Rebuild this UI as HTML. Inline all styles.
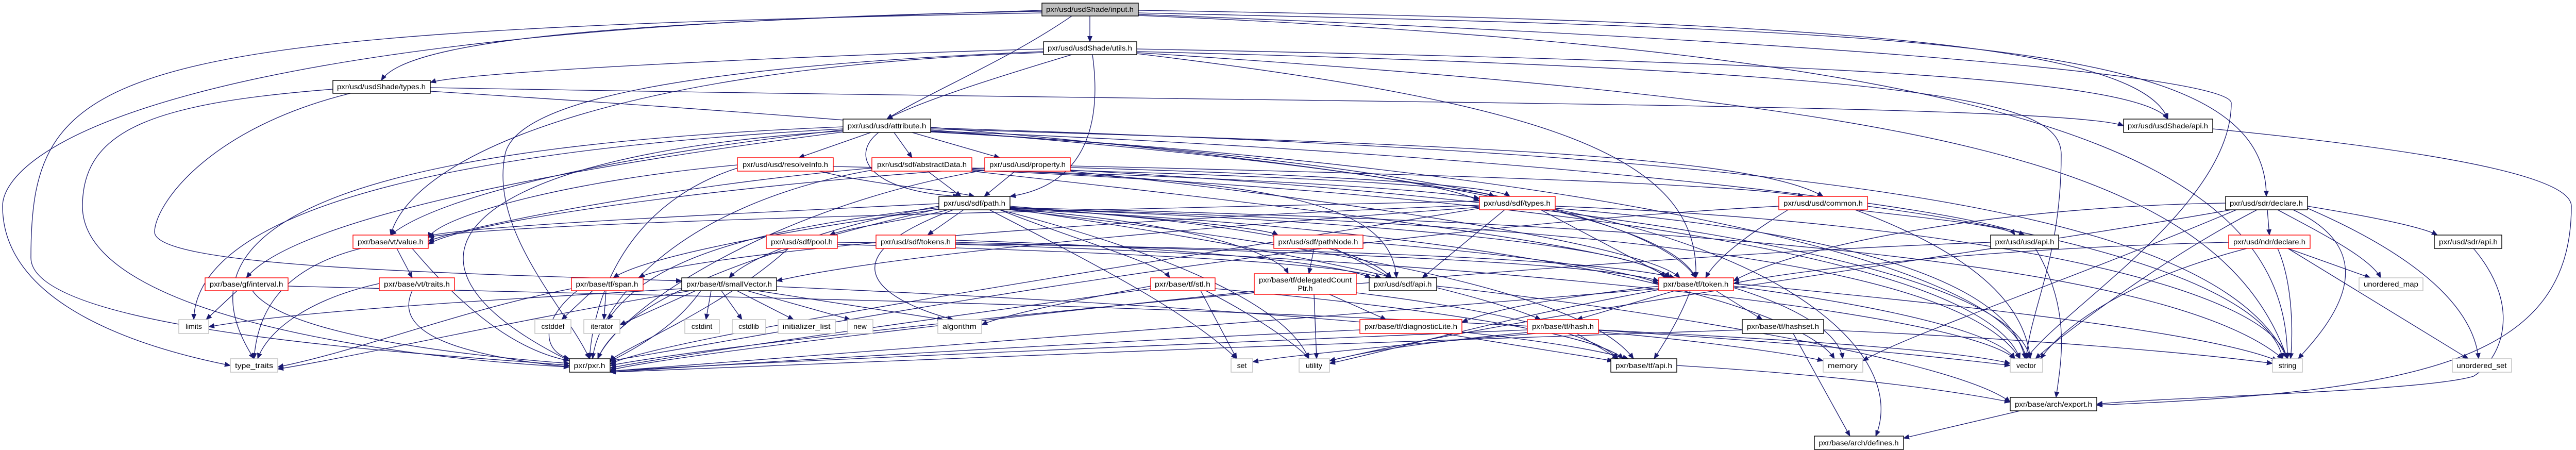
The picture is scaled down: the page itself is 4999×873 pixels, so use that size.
<!DOCTYPE html>
<html><head><meta charset="utf-8"><style>
html,body{margin:0;padding:0;background:#fff;}
svg{display:block;}
text{font-family:"Liberation Sans",sans-serif;font-size:14px;fill:#000;text-anchor:middle;}
.e path{fill:none;stroke:#191970;stroke-width:1.3;}
.n rect{fill:#fff;stroke-width:1.4;}
.b{stroke:#000;}.r{stroke:#ff0000;}.g{stroke:#bfbfbf;}
</style></head><body>
<svg width="4999" height="873" viewBox="0 0 4999 873" xmlns="http://www.w3.org/2000/svg">
<defs><marker id="a" markerUnits="userSpaceOnUse" markerWidth="12" markerHeight="10" refX="11" refY="5" orient="auto"><path d="M0,0 L12,5 L0,10 z" fill="#191970"/></marker></defs>
<g class="e" marker-end="url(#a)">
<path marker-end="url(#a)" d="M2115 31 L2115 81"/>
<path marker-end="url(#a)" d="M2022 20 C1400 40, 800 60, 740 156"/>
<path marker-end="url(#a)" d="M2080 31 C1950 120, 1800 180, 1721 231"/>
<path marker-end="url(#a)" d="M2209 20 C3500 40, 4150 80, 4207 231"/>
<path marker-end="url(#a)" d="M2209 25 C3800 60, 4398 80, 4398 381"/>
<path marker-end="url(#a)" d="M2022 25 C200 60, 60 120, 60 500 C60 650, 900 690, 1105 709"/>
<path marker-end="url(#a)" d="M2022 22 C300 50, 5 300, 5 400 C5 600, 300 680, 447 709"/>
<path marker-end="url(#a)" d="M2209 28 C3600 80, 4330 150, 4330 200 C4330 400, 4000 600, 3932 696"/>
<path marker-end="url(#a)" d="M2209 30 C3900 100, 4440 300, 4439 696"/>
<path marker-end="url(#a)" d="M2080 106 C1900 160, 1780 200, 1721 231"/>
<path marker-end="url(#a)" d="M2120 106 C2140 250, 2100 360, 1960 381"/>
<path marker-end="url(#a)" d="M2025 95 C1500 110, 900 140, 835 160"/>
<path marker-end="url(#a)" d="M2206 95 C3500 120, 4150 150, 4207 231"/>
<path marker-end="url(#a)" d="M2025 100 C1300 130, 1000 200, 980 300 C950 450, 1100 600, 1144 696"/>
<path marker-end="url(#a)" d="M2206 100 C3800 140, 4000 200, 4000 300 C4000 500, 3940 600, 3932 696"/>
<path marker-end="url(#a)" d="M2206 102 C3700 200, 4300 300, 4439 696"/>
<path marker-end="url(#a)" d="M2025 102 C1200 130, 800 300, 758 456"/>
<path marker-end="url(#a)" d="M2206 104 C3000 200, 3300 300, 3291 539"/>
<path marker-end="url(#a)" d="M835 170 C2500 200, 4000 200, 4121 244"/>
<path marker-end="url(#a)" d="M835 177 C2000 250, 3200 350, 3291 539"/>
<path marker-end="url(#a)" d="M646 173 C300 200, 160 250, 160 400 C160 600, 700 690, 1105 712"/>
<path marker-end="url(#a)" d="M680 181 C400 250, 300 400, 300 450 C300 520, 900 530, 1323 545"/>
<path marker-end="url(#a)" d="M1690 257 L1550 306"/>
<path marker-end="url(#a)" d="M1735 257 L1770 306"/>
<path marker-end="url(#a)" d="M1770 257 L1940 306"/>
<path marker-end="url(#a)" d="M1705 257 C1650 300, 1680 370, 1860 381"/>
<path marker-end="url(#a)" d="M1806 250 C2800 280, 3400 300, 3538 381"/>
<path marker-end="url(#a)" d="M1806 252 C2400 300, 2800 350, 2871 390"/>
<path marker-end="url(#a)" d="M1636 252 C1200 300, 850 380, 758 456"/>
<path marker-end="url(#a)" d="M1806 254 C3000 300, 3800 400, 3929 456"/>
<path marker-end="url(#a)" d="M1636 254 C900 300, 700 500, 1105 700"/>
<path marker-end="url(#a)" d="M1636 246 C800 280, 300 400, 493 696"/>
<path marker-end="url(#a)" d="M1806 256 C3000 320, 3900 500, 3932 696"/>
<path marker-end="url(#a)" d="M1806 248 C3500 300, 4300 400, 4439 696"/>
<path marker-end="url(#a)" d="M1806 255 C2600 300, 3200 400, 3291 539"/>
<path marker-end="url(#a)" d="M1636 250 C700 300, 380 450, 376 620"/>
<path marker-end="url(#a)" d="M1636 256 C900 350, 550 450, 478 539"/>
<path marker-end="url(#a)" d="M1590 332 C1700 360, 1850 370, 1891 381"/>
<path marker-end="url(#a)" d="M1431 320 C1100 350, 850 420, 831 462"/>
<path marker-end="url(#a)" d="M1431 326 C1200 400, 1150 600, 1144 696"/>
<path marker-end="url(#a)" d="M1617 323 C2400 340, 2800 370, 2871 385"/>
<path marker-end="url(#a)" d="M1800 332 L1865 381"/>
<path marker-end="url(#a)" d="M1692 326 C1300 360, 900 440, 831 468"/>
<path marker-end="url(#a)" d="M1886 326 C2500 340, 2850 360, 2900 381"/>
<path marker-end="url(#a)" d="M1692 330 C1300 400, 1160 600, 1150 696"/>
<path marker-end="url(#a)" d="M1886 330 C3000 380, 3850 500, 3920 696"/>
<path marker-end="url(#a)" d="M1886 332 C2500 400, 3200 480, 3240 539"/>
<path marker-end="url(#a)" d="M1886 329 C2500 350, 2700 400, 2710 539"/>
<path marker-end="url(#a)" d="M1970 332 L1910 381"/>
<path marker-end="url(#a)" d="M1994 320 C2900 340, 3400 360, 3500 381"/>
<path marker-end="url(#a)" d="M2077 325 C2600 340, 2900 360, 2930 381"/>
<path marker-end="url(#a)" d="M1911 326 C1400 360, 900 430, 831 474"/>
<path marker-end="url(#a)" d="M1911 330 C1500 400, 1200 600, 1160 696"/>
<path marker-end="url(#a)" d="M2077 330 C3000 380, 3900 500, 3940 696"/>
<path marker-end="url(#a)" d="M2077 332 C2700 400, 3200 480, 3260 539"/>
<path marker-end="url(#a)" d="M1840 407 C1750 430, 1650 440, 1610 456"/>
<path marker-end="url(#a)" d="M1870 407 L1800 456"/>
<path marker-end="url(#a)" d="M1960 400 C2200 420, 2450 440, 2480 456"/>
<path marker-end="url(#a)" d="M1940 407 C2100 470, 2250 510, 2270 539"/>
<path marker-end="url(#a)" d="M1822 400 C1600 440, 1450 500, 1415 539"/>
<path marker-end="url(#a)" d="M1960 402 C2400 430, 2650 480, 2700 539"/>
<path marker-end="url(#a)" d="M1960 404 C2700 430, 3200 480, 3230 539"/>
<path marker-end="url(#a)" d="M1960 406 C2300 430, 2480 490, 2500 531"/>
<path marker-end="url(#a)" d="M1850 407 C1600 500, 1700 580, 1850 620"/>
<path marker-end="url(#a)" d="M1920 407 C2100 500, 2300 600, 2400 696"/>
<path marker-end="url(#a)" d="M1822 403 C1400 450, 1250 520, 1180 620"/>
<path marker-end="url(#a)" d="M1960 405 C3000 430, 3800 500, 3920 696"/>
<path marker-end="url(#a)" d="M1960 403 C3200 430, 4200 500, 4430 696"/>
<path marker-end="url(#a)" d="M1940 407 C2300 500, 2500 600, 2540 696"/>
<path marker-end="url(#a)" d="M1822 405 C1400 500, 1200 600, 1160 696"/>
<path marker-end="url(#a)" d="M1822 406 C1500 450, 1250 500, 1190 539"/>
<path marker-end="url(#a)" d="M1960 407 C2800 500, 3100 600, 3170 696"/>
<path marker-end="url(#a)" d="M1960 405 C2600 500, 2900 580, 2990 620"/>
<path marker-end="url(#a)" d="M1960 406 C3000 450, 3500 600, 3560 696"/>
<path marker-end="url(#a)" d="M1822 395 C1300 420, 900 440, 831 458"/>
<path marker-end="url(#a)" d="M2920 407 L2760 539"/>
<path marker-end="url(#a)" d="M2990 407 L3240 539"/>
<path marker-end="url(#a)" d="M2871 390 C2000 410, 1000 430, 831 460"/>
<path marker-end="url(#a)" d="M2871 398 C2000 430, 1300 500, 1240 539"/>
<path marker-end="url(#a)" d="M2871 404 C2300 500, 1300 650, 1184 706"/>
<path marker-end="url(#a)" d="M3018 404 C3600 450, 3900 550, 3930 696"/>
<path marker-end="url(#a)" d="M3018 400 C3800 430, 4400 550, 4439 696"/>
<path marker-end="url(#a)" d="M2871 402 C2200 450, 1700 500, 1507 545"/>
<path marker-end="url(#a)" d="M3018 406 C3500 500, 3700 700, 3640 846"/>
<path marker-end="url(#a)" d="M3600 407 C3800 430, 3900 440, 3910 456"/>
<path marker-end="url(#a)" d="M3600 407 C3850 500, 3930 600, 3940 696"/>
<path marker-end="url(#a)" d="M3624 400 C4000 450, 4400 550, 4430 696"/>
<path marker-end="url(#a)" d="M3470 407 C3400 450, 3330 500, 3310 539"/>
<path marker-end="url(#a)" d="M3452 400 C2500 450, 1500 650, 1184 700"/>
<path marker-end="url(#a)" d="M4400 407 L4404 456"/>
<path marker-end="url(#a)" d="M4478 400 C4600 420, 4700 440, 4730 456"/>
<path marker-end="url(#a)" d="M4420 407 C4500 450, 4600 500, 4620 539"/>
<path marker-end="url(#a)" d="M4478 404 C4700 500, 4800 600, 4810 696"/>
<path marker-end="url(#a)" d="M4450 407 C4650 500, 4500 650, 4460 696"/>
<path marker-end="url(#a)" d="M4380 407 C4200 500, 4000 650, 3950 696"/>
<path marker-end="url(#a)" d="M4319 394 C3900 400, 3500 470, 3364 545"/>
<path marker-end="url(#a)" d="M4330 407 C3800 500, 3000 600, 2580 700"/>
<path marker-end="url(#a)" d="M4340 407 C4000 550, 3700 650, 3615 700"/>
<path marker-end="url(#a)" d="M770 482 L800 539"/>
<path marker-end="url(#a)" d="M800 482 C900 600, 1000 680, 1105 700"/>
<path marker-end="url(#a)" d="M700 482 C550 520, 500 600, 493 696"/>
<path marker-end="url(#a)" d="M1530 482 C1400 600, 1200 680, 1184 700"/>
<path marker-end="url(#a)" d="M1625 470 C2500 480, 3100 500, 3250 539"/>
<path marker-end="url(#a)" d="M1625 474 C2200 490, 2600 510, 2680 539"/>
<path marker-end="url(#a)" d="M1854 466 C2300 480, 2600 510, 2660 539"/>
<path marker-end="url(#a)" d="M1854 470 C2600 490, 3100 510, 3219 545"/>
<path marker-end="url(#a)" d="M1854 474 C2800 500, 3800 600, 3910 696"/>
<path marker-end="url(#a)" d="M2550 482 L2540 531"/>
<path marker-end="url(#a)" d="M2590 482 L2700 539"/>
<path marker-end="url(#a)" d="M2645 470 C2900 490, 3150 520, 3219 550"/>
<path marker-end="url(#a)" d="M3950 482 C4020 600, 4000 700, 3990 771"/>
<path marker-end="url(#a)" d="M3863 470 C3000 500, 1500 650, 1184 709"/>
<path marker-end="url(#a)" d="M4440 482 L4600 539"/>
<path marker-end="url(#a)" d="M4420 482 C4450 550, 4450 650, 4445 696"/>
<path marker-end="url(#a)" d="M4440 482 L4790 696"/>
<path marker-end="url(#a)" d="M4360 482 C4100 550, 3990 650, 3960 696"/>
<path marker-end="url(#a)" d="M4325 470 C3900 480, 3500 520, 3364 550"/>
<path marker-end="url(#a)" d="M4800 482 C4900 600, 4850 700, 4800 730 C4700 760, 4200 770, 4069 784"/>
<path marker-end="url(#a)" d="M460 564 L400 620"/>
<path marker-end="url(#a)" d="M490 564 C550 650, 900 690, 1105 705"/>
<path marker-end="url(#a)" d="M559 555 C1500 580, 3000 600, 3901 709"/>
<path marker-end="url(#a)" d="M800 564 C760 650, 900 690, 1105 712"/>
<path marker-end="url(#a)" d="M736 550 C600 580, 520 640, 500 696"/>
<path marker-end="url(#a)" d="M1150 564 L1090 620"/>
<path marker-end="url(#a)" d="M1176 564 L1172 620"/>
<path marker-end="url(#a)" d="M1120 564 C1050 620, 1050 680, 1105 696"/>
<path marker-end="url(#a)" d="M1109 560 C900 600, 700 680, 539 712"/>
<path marker-end="url(#a)" d="M1380 564 L1370 620"/>
<path marker-end="url(#a)" d="M1400 564 L1440 620"/>
<path marker-end="url(#a)" d="M1430 564 L1540 620"/>
<path marker-end="url(#a)" d="M1450 564 L1650 620"/>
<path marker-end="url(#a)" d="M1470 564 L1830 620"/>
<path marker-end="url(#a)" d="M1350 564 L1203 630"/>
<path marker-end="url(#a)" d="M1323 560 C1000 580, 600 600, 405 634"/>
<path marker-end="url(#a)" d="M1340 564 C1000 620, 700 690, 539 716"/>
<path marker-end="url(#a)" d="M1360 564 C1300 650, 1200 690, 1184 702"/>
<path marker-end="url(#a)" d="M1507 556 C2500 600, 3000 650, 3160 696"/>
<path marker-end="url(#a)" d="M2330 564 L2400 696"/>
<path marker-end="url(#a)" d="M2340 564 C2450 620, 2530 680, 2540 696"/>
<path marker-end="url(#a)" d="M2233 560 C1800 620, 1300 690, 1184 714"/>
<path marker-end="url(#a)" d="M2358 560 C2800 600, 3100 650, 3150 696"/>
<path marker-end="url(#a)" d="M2233 555 C2100 580, 1950 610, 1905 630"/>
<path marker-end="url(#a)" d="M2550 571 L2555 696"/>
<path marker-end="url(#a)" d="M2580 571 L2690 620"/>
<path marker-end="url(#a)" d="M2434 565 C1900 620, 1300 690, 1184 718"/>
<path marker-end="url(#a)" d="M2632 568 C2900 600, 3100 650, 3140 696"/>
<path marker-end="url(#a)" d="M2788 555 C3200 600, 3800 700, 3901 780"/>
<path marker-end="url(#a)" d="M3219 555 C3000 580, 2900 600, 2837 625"/>
<path marker-end="url(#a)" d="M3250 564 L3060 620"/>
<path marker-end="url(#a)" d="M3330 564 L3420 620"/>
<path marker-end="url(#a)" d="M3280 564 C3260 620, 3220 680, 3210 696"/>
<path marker-end="url(#a)" d="M3364 555 C3700 600, 3880 650, 3910 696"/>
<path marker-end="url(#a)" d="M3364 550 C3900 600, 4300 650, 4420 700"/>
<path marker-end="url(#a)" d="M3219 560 C2500 620, 1500 700, 1184 720"/>
<path marker-end="url(#a)" d="M3364 558 C3500 600, 3570 650, 3576 696"/>
<path marker-end="url(#a)" d="M3219 562 C2900 620, 2700 680, 2580 705"/>
<path marker-end="url(#a)" d="M3060 647 L3140 696"/>
<path marker-end="url(#a)" d="M2964 640 C2500 660, 1500 700, 1184 720"/>
<path marker-end="url(#a)" d="M2964 645 C2700 670, 2620 690, 2580 700"/>
<path marker-end="url(#a)" d="M3102 640 C3500 660, 3800 680, 3901 705"/>
<path marker-end="url(#a)" d="M3102 644 C3300 660, 3500 690, 3538 700"/>
<path marker-end="url(#a)" d="M2980 647 C2700 670, 2500 690, 2431 702"/>
<path marker-end="url(#a)" d="M3480 647 L3590 846"/>
<path marker-end="url(#a)" d="M3381 640 C2800 660, 1600 700, 1184 722"/>
<path marker-end="url(#a)" d="M3539 640 C4000 660, 4300 690, 4410 705"/>
<path marker-end="url(#a)" d="M2800 647 L3130 700"/>
<path marker-end="url(#a)" d="M2639 640 C2200 660, 1500 700, 1184 722"/>
<path marker-end="url(#a)" d="M3254 709 C3600 730, 3800 760, 3901 780"/>
<path marker-end="url(#a)" d="M3920 797 L3694 850"/>
<path marker-end="url(#a)" d="M4294 250 C4800 300, 4990 350, 4990 400 C4990 700, 4700 760, 4069 786"/>
</g>
<g class="n">
<rect x="2022" y="6" width="187" height="25" style="fill:#bfbfbf" class="b"/><text x="2115" y="23" textLength="170" lengthAdjust="spacingAndGlyphs">pxr/usd/usdShade/input.h</text>
<rect x="2025" y="81" width="181" height="25" class="b"/><text x="2115" y="98" textLength="164" lengthAdjust="spacingAndGlyphs">pxr/usd/usdShade/utils.h</text>
<rect x="646" y="156" width="189" height="25" class="b"/><text x="740" y="173" textLength="172" lengthAdjust="spacingAndGlyphs">pxr/usd/usdShade/types.h</text>
<rect x="4121" y="231" width="173" height="26" class="b"/><text x="4207" y="249" textLength="156" lengthAdjust="spacingAndGlyphs">pxr/usd/usdShade/api.h</text>
<rect x="1636" y="231" width="170" height="26" class="b"/><text x="1721" y="249" textLength="153" lengthAdjust="spacingAndGlyphs">pxr/usd/usd/attribute.h</text>
<rect x="1431" y="306" width="186" height="26" class="r"/><text x="1524" y="324" textLength="166" lengthAdjust="spacingAndGlyphs">pxr/usd/usd/resolveInfo.h</text>
<rect x="1692" y="306" width="194" height="26" class="r"/><text x="1789" y="324" textLength="174" lengthAdjust="spacingAndGlyphs">pxr/usd/sdf/abstractData.h</text>
<rect x="1911" y="306" width="166" height="26" class="r"/><text x="1994" y="324" textLength="148" lengthAdjust="spacingAndGlyphs">pxr/usd/usd/property.h</text>
<rect x="1822" y="381" width="138" height="26" class="b"/><text x="1891" y="399" textLength="120" lengthAdjust="spacingAndGlyphs">pxr/usd/sdf/path.h</text>
<rect x="2871" y="381" width="147" height="26" class="r"/><text x="2944" y="399" textLength="130" lengthAdjust="spacingAndGlyphs">pxr/usd/sdf/types.h</text>
<rect x="3452" y="381" width="172" height="26" class="r"/><text x="3538" y="399" textLength="154" lengthAdjust="spacingAndGlyphs">pxr/usd/usd/common.h</text>
<rect x="4319" y="381" width="159" height="26" class="b"/><text x="4398" y="399" textLength="142" lengthAdjust="spacingAndGlyphs">pxr/usd/sdr/declare.h</text>
<rect x="685" y="456" width="146" height="26" class="r"/><text x="758" y="474" textLength="128" lengthAdjust="spacingAndGlyphs">pxr/base/vt/value.h</text>
<rect x="1487" y="456" width="138" height="26" class="r"/><text x="1556" y="474" textLength="120" lengthAdjust="spacingAndGlyphs">pxr/usd/sdf/pool.h</text>
<rect x="1700" y="456" width="154" height="26" class="r"/><text x="1777" y="474" textLength="136" lengthAdjust="spacingAndGlyphs">pxr/usd/sdf/tokens.h</text>
<rect x="2472" y="456" width="173" height="26" class="r"/><text x="2558" y="474" textLength="155" lengthAdjust="spacingAndGlyphs">pxr/usd/sdf/pathNode.h</text>
<rect x="3863" y="456" width="132" height="26" class="b"/><text x="3929" y="474" textLength="115" lengthAdjust="spacingAndGlyphs">pxr/usd/usd/api.h</text>
<rect x="4325" y="456" width="158" height="26" class="r"/><text x="4404" y="474" textLength="140" lengthAdjust="spacingAndGlyphs">pxr/usd/ndr/declare.h</text>
<rect x="4724" y="456" width="131" height="26" class="b"/><text x="4790" y="474" textLength="114" lengthAdjust="spacingAndGlyphs">pxr/usd/sdr/api.h</text>
<rect x="398" y="539" width="161" height="25" class="r"/><text x="478" y="556" textLength="143" lengthAdjust="spacingAndGlyphs">pxr/base/gf/interval.h</text>
<rect x="736" y="539" width="146" height="25" class="r"/><text x="809" y="556" textLength="128" lengthAdjust="spacingAndGlyphs">pxr/base/vt/traits.h</text>
<rect x="1109" y="539" width="139" height="25" class="r"/><text x="1178" y="556" textLength="121" lengthAdjust="spacingAndGlyphs">pxr/base/tf/span.h</text>
<rect x="1323" y="539" width="184" height="25" class="b"/><text x="1415" y="556" textLength="166" lengthAdjust="spacingAndGlyphs">pxr/base/tf/smallVector.h</text>
<rect x="2233" y="539" width="125" height="25" class="r"/><text x="2295" y="556" textLength="108" lengthAdjust="spacingAndGlyphs">pxr/base/tf/stl.h</text>
<rect x="2434" y="531" width="198" height="40" class="r"/><text x="2533" y="548" textLength="180" lengthAdjust="spacingAndGlyphs">pxr/base/tf/delegatedCount</text><text x="2533" y="564">Ptr.h</text>
<rect x="2657" y="539" width="131" height="25" class="b"/><text x="2722" y="556" textLength="113" lengthAdjust="spacingAndGlyphs">pxr/usd/sdf/api.h</text>
<rect x="3219" y="539" width="145" height="25" class="r"/><text x="3291" y="556" textLength="127" lengthAdjust="spacingAndGlyphs">pxr/base/tf/token.h</text>
<rect x="4578" y="539" width="124" height="25" class="g"/><text x="4640" y="556" textLength="106" lengthAdjust="spacingAndGlyphs">unordered_map</text>
<rect x="347" y="620" width="58" height="27" class="g"/><text x="376" y="638">limits</text>
<rect x="1038" y="620" width="70" height="27" class="g"/><text x="1073" y="638">cstddef</text>
<rect x="1133" y="620" width="70" height="27" class="g"/><text x="1168" y="638">iterator</text>
<rect x="1329" y="620" width="67" height="27" class="g"/><text x="1362" y="638">cstdint</text>
<rect x="1421" y="620" width="65" height="27" class="g"/><text x="1453" y="638">cstdlib</text>
<rect x="1510" y="620" width="111" height="27" class="g"/><text x="1565" y="638" textLength="93" lengthAdjust="spacingAndGlyphs">initializer_list</text>
<rect x="1645" y="620" width="49" height="27" class="g"/><text x="1669" y="638">new</text>
<rect x="1820" y="620" width="85" height="27" class="g"/><text x="1862" y="638" textLength="66" lengthAdjust="spacingAndGlyphs">algorithm</text>
<rect x="2639" y="620" width="198" height="27" class="r"/><text x="2738" y="638" textLength="180" lengthAdjust="spacingAndGlyphs">pxr/base/tf/diagnosticLite.h</text>
<rect x="2964" y="620" width="138" height="27" class="r"/><text x="3033" y="638" textLength="120" lengthAdjust="spacingAndGlyphs">pxr/base/tf/hash.h</text>
<rect x="3381" y="620" width="158" height="27" class="b"/><text x="3460" y="638" textLength="140" lengthAdjust="spacingAndGlyphs">pxr/base/tf/hashset.h</text>
<rect x="447" y="696" width="92" height="26" class="g"/><text x="493" y="714" textLength="74" lengthAdjust="spacingAndGlyphs">type_traits</text>
<rect x="1105" y="696" width="79" height="26" class="b"/><text x="1144" y="714" textLength="61" lengthAdjust="spacingAndGlyphs">pxr/pxr.h</text>
<rect x="2389" y="696" width="42" height="26" class="g"/><text x="2410" y="714">set</text>
<rect x="2521" y="696" width="59" height="26" class="g"/><text x="2550" y="714">utility</text>
<rect x="3126" y="696" width="128" height="26" class="b"/><text x="3190" y="714" textLength="110" lengthAdjust="spacingAndGlyphs">pxr/base/tf/api.h</text>
<rect x="3538" y="696" width="77" height="26" class="g"/><text x="3576" y="714" textLength="58" lengthAdjust="spacingAndGlyphs">memory</text>
<rect x="3901" y="696" width="63" height="26" class="g"/><text x="3932" y="714">vector</text>
<rect x="4410" y="696" width="58" height="26" class="g"/><text x="4439" y="714">string</text>
<rect x="4759" y="696" width="115" height="26" class="g"/><text x="4816" y="714" textLength="97" lengthAdjust="spacingAndGlyphs">unordered_set</text>
<rect x="3901" y="771" width="168" height="26" class="b"/><text x="3985" y="789" textLength="150" lengthAdjust="spacingAndGlyphs">pxr/base/arch/export.h</text>
<rect x="3521" y="846" width="173" height="26" class="b"/><text x="3607" y="864" textLength="155" lengthAdjust="spacingAndGlyphs">pxr/base/arch/defines.h</text>
</g>
</svg>
</body></html>
